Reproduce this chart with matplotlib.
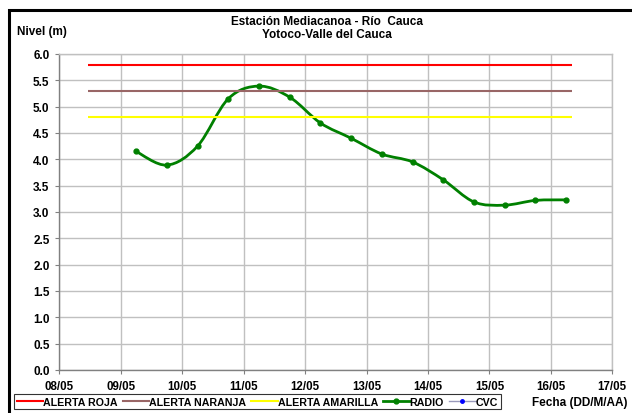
import matplotlib
matplotlib.use("Agg")
import matplotlib.pyplot as plt
from matplotlib.path import Path
from matplotlib.patches import PathPatch, Rectangle
from matplotlib.lines import Line2D
import numpy as np

plt.rcParams['font.family'] = ['Liberation Sans', 'DejaVu Sans']

# ---- data ----
title = "Estación Mediacanoa - Río  Cauca\nYotoco-Valle del Cauca"
x_ticklabels = ["08/05", "09/05", "10/05", "11/05", "12/05", "13/05", "14/05", "15/05", "16/05", "17/05"]
x_tickdays = [8, 9, 10, 11, 12, 13, 14, 15, 16, 17]
radio_days = [9.25, 9.75, 10.25, 10.75, 11.25, 11.75, 12.25, 12.75, 13.25, 13.75,
              14.25, 14.75, 15.25, 15.75, 16.25]
radio_level = [4.15, 3.89, 4.25, 5.15, 5.39, 5.18, 4.69, 4.40, 4.10, 3.95,
               3.61, 3.19, 3.13, 3.22, 3.23]
alert_span = [8.47, 16.35]
alert_roja = 5.8
alert_naranja = 5.3
alert_amarilla = 4.8

GREEN = "#008000"

fig = plt.figure(figsize=(6.32, 4.14), dpi=100)
ax = fig.add_axes([0.0938, 0.1039, 0.875, 0.7633])

ax.set_xlim(8, 17)
ax.set_ylim(0, 6)
ax.set_xticks(x_tickdays)
ax.set_xticklabels(x_ticklabels)
ax.set_yticks(np.arange(0, 6.01, 0.5))
ax.set_yticklabels([f"{v:.1f}" for v in np.arange(0, 6.01, 0.5)])
ax.grid(True, color="#c0c0c0", linewidth=1.0)
ax.set_axisbelow(True)
for s in ["top", "right"]:
    ax.spines[s].set_color("#c0c0c0")
    ax.spines[s].set_linewidth(1.0)
for s in ["left", "bottom"]:
    ax.spines[s].set_color("#808080")
    ax.spines[s].set_linewidth(1.0)
ax.tick_params(axis="both", direction="out", length=3, color="#808080", pad=3)
ax.tick_params(axis="y", labelsize=8.5, pad=4)
ax.tick_params(axis="x", labelsize=8.3, pad=4)
for lab in ax.get_xticklabels() + ax.get_yticklabels():
    lab.set_fontweight("bold")

# alert lines
ax.plot(alert_span, [alert_roja] * 2, color="#ff0000", lw=1.5, solid_capstyle="butt")
ax.plot(alert_span, [alert_naranja] * 2, color="#996666", lw=1.5, solid_capstyle="butt")
ax.plot(alert_span, [alert_amarilla] * 2, color="#ffff00", lw=1.5, solid_capstyle="butt")

# smoothed RADIO line (Catmull-Rom as cubic Bezier, like Excel smoothing)
px = np.array(radio_days)
py = np.array(radio_level)
verts = [(px[0], py[0])]
codes = [Path.MOVETO]
n = len(px)
for i in range(n - 1):
    p0 = np.array([px[max(i - 1, 0)], py[max(i - 1, 0)]])
    p1 = np.array([px[i], py[i]])
    p2 = np.array([px[i + 1], py[i + 1]])
    p3 = np.array([px[min(i + 2, n - 1)], py[min(i + 2, n - 1)]])
    c1 = p1 + (p2 - p0) / 6.0
    c2 = p2 - (p3 - p1) / 6.0
    verts += [tuple(c1), tuple(c2), tuple(p2)]
    codes += [Path.CURVE4] * 3
ax.add_patch(PathPatch(Path(verts, codes), facecolor="none", edgecolor=GREEN, lw=2.0,
                       capstyle="round", joinstyle="round"))
ax.plot(radio_days, radio_level, linestyle="none", marker="o", markersize=3.5,
        color=GREEN)

# titles
fig.text(0.517, 0.931, title, ha="center", va="center", fontsize=8.5,
         fontweight="bold", linespacing=1.05)
fig.text(0.027, 0.923, "Nivel (m)", ha="left", va="center", fontsize=8.5,
         fontweight="bold")
fig.text(0.993, 0.027, "Fecha (DD/M/AA)", ha="right", va="center", fontsize=8.5,
         fontweight="bold")

# outer black frame
fig.patches.append(Rectangle((9 / 632, -0.05), 1.2, (414 - 10.5) / 414 + 0.05,
                             transform=fig.transFigure, fill=False,
                             edgecolor="black", lw=2.2))

# legend
handles = [
    Line2D([], [], color="#ff0000", lw=1.5),
    Line2D([], [], color="#996666", lw=1.5),
    Line2D([], [], color="#ffff00", lw=1.5),
    Line2D([], [], color=GREEN, lw=2.0, marker="o", markersize=3.5),
    Line2D([], [], color="#9999bb", lw=1.0, marker="o", markersize=2.5,
           markerfacecolor="#0000ff", markeredgecolor="#0000ff"),
]
labels = ["ALERTA ROJA", "ALERTA NARANJA", "ALERTA AMARILLA", "RADIO", "CVC"]
leg = fig.legend(handles, labels, loc="center left", bbox_to_anchor=(0.022, 0.027),
                 ncol=5, fontsize=7.7, frameon=True, fancybox=False,
                 handlelength=2.5, handletextpad=0.0, columnspacing=0.45,
                 borderpad=0.25, borderaxespad=0)
leg.get_frame().set_edgecolor("black")
leg.get_frame().set_linewidth(0.8)
for t in leg.get_texts():
    t.set_fontweight("bold")

fig.savefig("out.png", dpi=100)
